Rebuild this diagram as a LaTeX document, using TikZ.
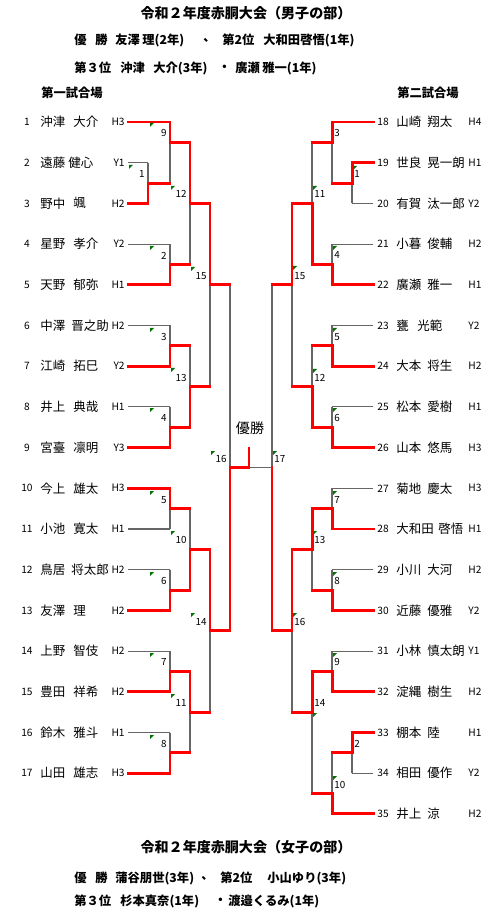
\documentclass[tikz,border=0pt]{standalone}
\usepackage{fontspec}
\setmainfont{Noto Sans CJK JP}
\usepackage{tikz}
\usetikzlibrary{positioning}

% row k (half rows) -> y in px
\newcommand{\ry}[1]{122+20.35*#1}

% bouts: column / winner row / loser row / result row / next column / bout no.
\def\leftbouts{148/4/2/3/170/1, 170/0/3/1/190/9, 170/8/6/7/190/2, 190/1/7/4/210/12,
  170/12/10/11/190/3, 170/16/14/15/190/4, 190/15/11/13/210/13, 210/4/13/8/230/15,
  170/18/20/19/190/5, 170/24/22/23/190/6, 190/23/19/21/210/10, 170/28/26/27/190/7,
  170/32/30/31/190/8, 190/27/31/29/210/11, 210/21/29/25/230/14, 230/25/8/17/230/16}
\def\rightbouts{352/2/4/3/332/1, 332/0/3/1/312/3, 332/8/6/7/312/4, 312/7/1/4/292/11,
  332/12/10/11/312/5, 332/16/14/15/312/6, 312/15/11/13/292/12, 292/4/13/8/272/15,
  332/20/18/19/312/7, 332/24/22/23/312/8, 312/19/23/21/292/13, 332/28/26/27/312/9,
  352/30/32/31/332/2, 332/34/31/33/312/10, 312/27/33/29/292/14, 292/21/29/25/272/16,
  272/25/8/17/272/17}

\begin{document}
\begin{tikzpicture}[x=0.02cm, y=-0.02cm,
    win/.style ={draw=red, line width=1.7pt, line cap=rect},
    lose/.style={draw=black!60, line width=0.6pt},
    flag/.style={fill=green!45!black},
    ttl/.style ={font=\bfseries\fontsize{8}{9}\selectfont, inner sep=0pt},
    res/.style ={font=\bfseries\fontsize{7}{8}\selectfont, inner sep=0pt, anchor=west},
    nm/.style  ={font=\fontsize{7.1}{8}\selectfont, inner sep=0pt, anchor=west},
    no/.style  ={font=\fontsize{5.8}{7}\selectfont, inner sep=0pt},
    bout/.style={font=\fontsize{5.6}{6}\selectfont, inner sep=0pt}
  ]
  \useasboundingbox (0,0) rectangle (500,911);
  \fill[white] (0,0) rectangle (500,911);

  %% ---- headings ----------------------------------------------------
  \node[ttl] (boys) at (246,13) {令和２年度赤胴大会（男子の部）};
  \foreach \x/\t [count=\i] in {74/優, 95/勝, 115/友澤, 142/理(2年), 203/、, 222/第2位, 263/大和田啓悟(1年)}
    \node[res] (bw\i) at (\x,40) {\t};
  \foreach \x/\t [count=\i] in {74/第３位, 120/沖津, 153/大介(3年), 218/・, 235/廣瀬, 262/雅一(1年)}
    \node[res] (bt\i) at (\x,68) {\t};
  \node[res, anchor=center] (hall1) at (72,93) {第一試合場};
  \node[res, anchor=center] (hall2) at (428,93) {第二試合場};

  %% ---- players, first hall -----------------------------------------
  \foreach \n/\fam/\giv/\gx/\rk/\sx/\s in {
      1/沖津/大介/73/H3/170/1, 2/遠藤/健心/68/Y1/148/0, 3/野中/颯/73/H2/148/1,
      4/星野/孝介/73/Y2/170/0, 5/天野/郁弥/73/H1/170/1, 6/中澤/晋之助/71/H2/170/0,
      7/江崎/拓巳/73/Y2/170/1, 8/井上/典哉/73/H1/170/0, 9/宮臺/凛明/73/Y3/170/1,
      10/今上/雄太/73/H3/170/1, 11/小池/寛太/73/H1/170/0, 12/鳥居/将太郎/71/H2/170/0,
      13/友澤/理/73/H2/170/1, 14/上野/智伎/73/H2/170/0, 15/豊田/祥希/73/H2/170/1,
      16/鈴木/雅斗/73/H1/170/0, 17/山田/雄志/73/H3/170/1} {
    \pgfmathsetmacro\yy{\ry{2*(\n-1)}}
    \node[no] (ln\n) at (27,\yy) {\n};
    \node[nm] (lf\n) at (40,\yy) {\fam};
    \node[nm] (lg\n) at (\gx,\yy) {\giv};
    \node[no, anchor=east] (lr\n) at (125,\yy) {\rk};
    \ifnum\s=1 \draw[win] (128,\yy) -- (\sx,\yy); \else \draw[lose] (128,\yy) -- (\sx,\yy); \fi
  }

  %% ---- players, second hall ----------------------------------------
  \foreach \n/\fam/\giv/\gx/\rk/\sx/\s in {
      18/山崎/翔太/427/H4/332/1, 19/世良/晃一朗/427/H1/352/1, 20/有賀/汰一郎/427/Y2/352/0,
      21/小暮/俊輔/427/H2/332/0, 22/廣瀬/雅一/427/H1/332/1, 23/甕/光範/417/Y2/332/0,
      24/大本/将生/427/H2/332/1, 25/松本/愛樹/427/H1/332/0, 26/山本/悠馬/427/H3/332/1,
      27/菊地/慶太/427/H3/332/0, 28/大和田/啓悟/438/H1/332/1, 29/小川/大河/427/H2/332/0,
      30/近藤/優雅/427/Y2/332/1, 31/小林/慎太朗/427/Y1/332/0, 32/淀縄/樹生/427/H2/332/1,
      33/棚本/陸/427/H1/352/1, 34/相田/優作/427/Y2/352/0, 35/井上/涼/427/H2/332/1} {
    \pgfmathsetmacro\yy{\ry{2*(\n-18)}}
    \node[no] (rn\n) at (383,\yy) {\n};
    \node[nm] (rf\n) at (396,\yy) {\fam};
    \node[nm] (rg\n) at (\gx,\yy) {\giv};
    \node[no, anchor=west] (rr\n) at (468,\yy) {\rk};
    \ifnum\s=1 \draw[win] (\sx,\yy) -- (373,\yy); \else \draw[lose] (\sx,\yy) -- (373,\yy); \fi
  }

  %% ---- bouts -------------------------------------------------------
  \foreach \cx/\wy/\ly/\oy/\nx/\bn in \leftbouts
    \draw[lose] (\cx,\ry{\ly}) -- (\cx,\ry{\oy});
  \foreach \cx/\wy/\ly/\oy/\nx/\bn in \rightbouts
    \draw[lose] (\cx,\ry{\ly}) -- (\cx,\ry{\oy});
  \foreach \cx/\wy/\ly/\oy/\nx/\bn in \leftbouts {
    \draw[win] (\cx,\ry{\wy}) -- (\cx,\ry{\oy}) -- (\nx,\ry{\oy});
    \node[bout, anchor=east] (lb\bn) at (\cx-3,\ry{\oy}-9) {\bn};
  }
  \foreach \cx/\wy/\ly/\oy/\nx/\bn in \rightbouts {
    \draw[win] (\cx,\ry{\wy}) -- (\cx,\ry{\oy}) -- (\nx,\ry{\oy});
    \node[bout, anchor=west] (rb\bn) at (\cx+2,\ry{\oy}-9) {\bn};
  }

  %% ---- final -------------------------------------------------------
  \node[font=\fontsize{8}{9}\selectfont, inner sep=0pt] (champ) at (250,428) {優勝};
  \coordinate (semiL) at (230,\ry{17});
  \coordinate (semiR) at (272,\ry{17});
  \coordinate (fin)   at (249,\ry{17});
  \coordinate (top)   at (249,448);
  \draw[lose] (fin) -- (semiR);
  \draw[win]  (semiL) -- (fin) -- (top);

  %% ---- green cell marks --------------------------------------------
  \foreach \x/\y in {150/123, 129/165, 171/186, 150/246, 191/267, 150/328, 171/368, 150/408,
      211/451, 150/491, 171/531, 150/572, 191/613, 150/653, 171/694, 150/735,
      353/166, 313/186, 333/246, 293/266, 333/328, 313/369, 333/408, 273/451,
      333/491, 313/531, 333/572, 293/613, 333/653, 313/713, 333/776}
    \fill[flag] (\x,\y) -- ++(4,0) -- ++(-4,4) -- cycle;

  %% ---- girls -------------------------------------------------------
  \node[ttl] (girls) at (246,847) {令和２年度赤胴大会（女子の部）};
  \foreach \x/\t [count=\i] in {74/優, 95/勝, 115/蒲谷朋世(3年), 201/、, 220/第2位, 267/小山ゆり(3年)}
    \node[res] (gw\i) at (\x,878) {\t};
  \foreach \x/\t [count=\i] in {74/第３位, 120/杉本真奈(1年), 214/・, 228/渡邉くるみ(1年)}
    \node[res] (gt\i) at (\x,901) {\t};

\end{tikzpicture}
\end{document}
